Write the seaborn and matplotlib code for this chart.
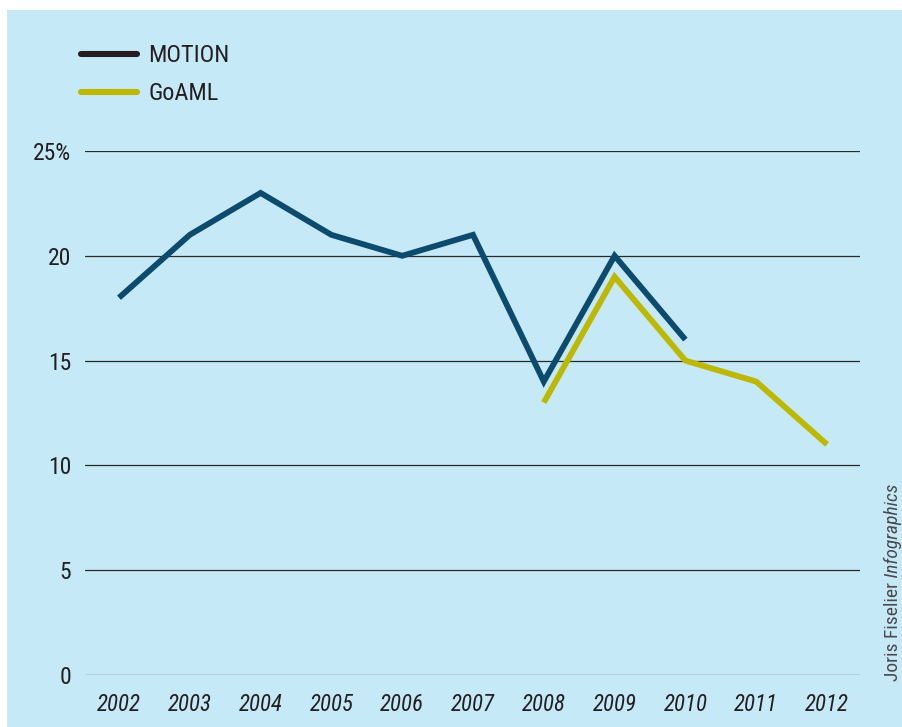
import matplotlib
matplotlib.use("Agg")
import matplotlib.pyplot as plt
from matplotlib.patches import Rectangle
from matplotlib.lines import Line2D
import seaborn as sns
import pandas as pd

motion_years = [2002, 2003, 2004, 2005, 2006, 2007, 2008, 2009, 2010]
motion_values = [18, 21, 23, 21, 20, 21, 14, 20, 16]
goaml_years = [2008, 2009, 2010, 2011, 2012]
goaml_values = [13, 19, 15, 14, 11]
series_names = ["MOTION", "GoAML"]
y_ticks = [0, 5, 10, 15, 20, 25]
y_tick_labels = ["0", "5", "10", "15", "20", "25%"]
x_ticks = list(range(2002, 2013))

df = pd.DataFrame({
    "year": motion_years + goaml_years,
    "value": motion_values + goaml_values,
    "series": [series_names[0]] * len(motion_years) + [series_names[1]] * len(goaml_years),
})

sns.set_theme(style="white")
FONT = ["Roboto Condensed", "Liberation Sans Narrow", "Roboto", "DejaVu Sans"]
plt.rcParams["font.family"] = FONT

W, H = 902, 727
fig = plt.figure(figsize=(W / 100, H / 100), dpi=100)
fig.patch.set_facecolor("white")
bg = Rectangle((7 / W, 0), 1, (H - 10) / H, transform=fig.transFigure,
               facecolor="#c6e9f8", edgecolor="none", zorder=-10)
fig.patches.append(bg)

ax = fig.add_axes([85 / W, 52 / H, (860 - 85) / W, (675 - 151) / H])
ax.set_facecolor("none")
ax.set_zorder(2)

navy = "#0c4a6e"
olive = "#bdb800"
sns.lineplot(data=df, x="year", y="value", hue="series", palette={"MOTION": navy, "GoAML": olive},
             linewidth=4.2, ax=ax, legend=False, zorder=3)
for ln in ax.lines:
    ln.set_solid_joinstyle("miter")
    ln.set_solid_capstyle("butt")

ax.set_xlim(2002 - 34 / 70.8, 2012 + 33 / 70.8)
ax.set_ylim(0, 25)
ax.set_yticks(y_ticks)
ax.set_yticklabels(y_tick_labels)
ax.set_xticks(x_ticks)
ax.set_xticklabels([str(x) for x in x_ticks], style="italic")
for y in y_ticks:
    ax.axhline(y, color="#2a2a2a", linewidth=0.9, zorder=1)
for s in ax.spines.values():
    s.set_visible(False)
ax.tick_params(axis="y", length=0, pad=10, labelsize=17, labelcolor="#231f20")
ax.tick_params(axis="x", length=0, pad=13, labelsize=16.5, labelcolor="#231f20")
ax.set_xlabel("")
ax.set_ylabel("")
ax.grid(False)

handles = [Line2D([0], [0], color="#231f20", linewidth=4.4, solid_capstyle="round"),
           Line2D([0], [0], color=olive, linewidth=4.4, solid_capstyle="round")]
fig.legend(handles, series_names, loc="upper left", bbox_to_anchor=(74 / W, 1 - 37 / H),
           frameon=False, fontsize=17.5, handlelength=2.3, handletextpad=0.45,
           labelspacing=0.62, labelcolor="#231f20", borderaxespad=0, borderpad=0.3)

t1 = fig.text(893 / W, 1 - 681 / H, "Joris Fiselier", rotation=90, ha="center", va="bottom",
              fontsize=14, color="#4a4a4a")
ax.annotate(" Infographics", xy=(0.5, 1.0), xycoords=t1, rotation=90, ha="center", va="bottom",
            fontsize=14, color="#4a4a4a", style="italic", annotation_clip=False)

fig.savefig("out.png", dpi=100)
